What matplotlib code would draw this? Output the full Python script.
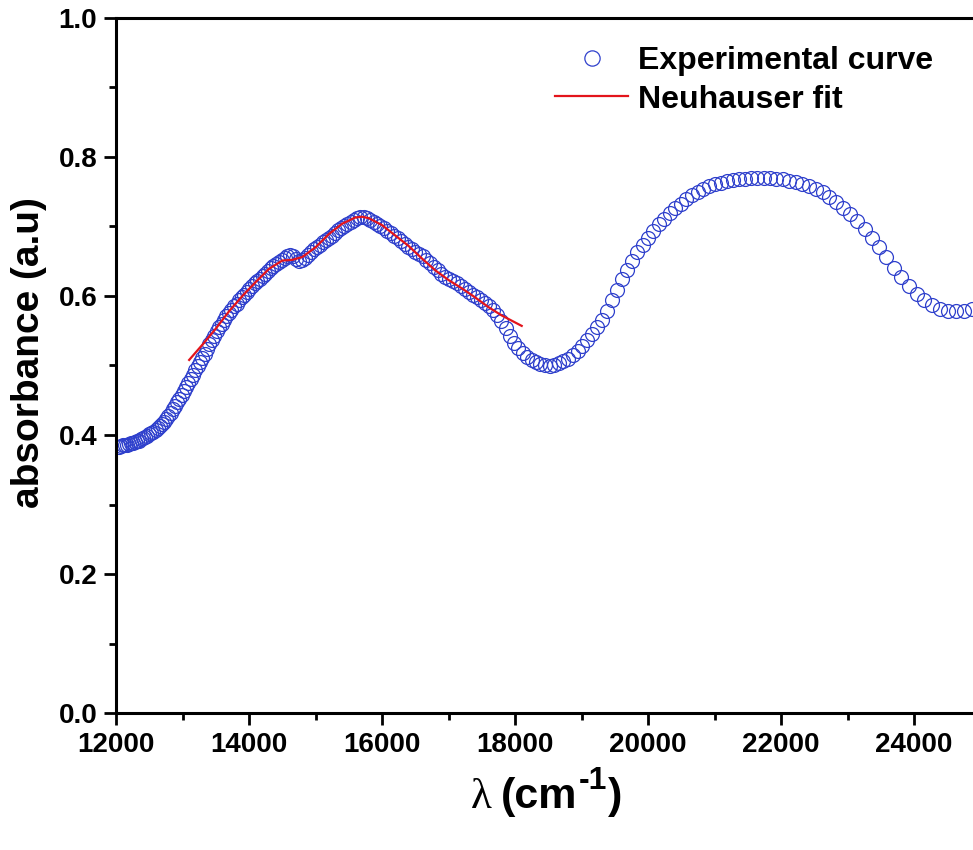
import numpy as np
import matplotlib
matplotlib.use('Agg')
import matplotlib.pyplot as plt

plt.rcParams['font.family'] = ['Liberation Sans', 'DejaVu Sans']
plt.rcParams['font.weight'] = 'bold'

# measured spectrum, sampled every 2 nm (plotted in cm-1)
wavelength_nm = [
    830, 828, 826, 824, 822, 820, 818, 816, 814, 812,
    810, 808, 806, 804, 802, 800, 798, 796, 794, 792,
    790, 788, 786, 784, 782, 780, 778, 776, 774, 772,
    770, 768, 766, 764, 762, 760, 758, 756, 754, 752,
    750, 748, 746, 744, 742, 740, 738, 736, 734, 732,
    730, 728, 726, 724, 722, 720, 718, 716, 714, 712,
    710, 708, 706, 704, 702, 700, 698, 696, 694, 692,
    690, 688, 686, 684, 682, 680, 678, 676, 674, 672,
    670, 668, 666, 664, 662, 660, 658, 656, 654, 652,
    650, 648, 646, 644, 642, 640, 638, 636, 634, 632,
    630, 628, 626, 624, 622, 620, 618, 616, 614, 612,
    610, 608, 606, 604, 602, 600, 598, 596, 594, 592,
    590, 588, 586, 584, 582, 580, 578, 576, 574, 572,
    570, 568, 566, 564, 562, 560, 558, 556, 554, 552,
    550, 548, 546, 544, 542, 540, 538, 536, 534, 532,
    530, 528, 526, 524, 522, 520, 518, 516, 514, 512,
    510, 508, 506, 504, 502, 500, 498, 496, 494, 492,
    490, 488, 486, 484, 482, 480, 478, 476, 474, 472,
    470, 468, 466, 464, 462, 460, 458, 456, 454, 452,
    450, 448, 446, 444, 442, 440, 438, 436, 434, 432,
    430, 428, 426, 424, 422, 420, 418, 416, 414, 412,
    410, 408, 406, 404, 402, 400]
absorbance = [
    .383, .384, .385, .386, .386, .387, .388, .389, .390, .391,
    .392, .394, .395, .397, .399, .401, .403, .405, .407, .410,
    .413, .416, .419, .423, .427, .432, .437, .442, .447, .452,
    .457, .463, .469, .475, .481, .487, .493, .499, .505, .511,
    .517, .524, .531, .537, .543, .549, .555, .560, .566, .571,
    .576, .580, .585, .589, .594, .598, .602, .606, .610, .614,
    .618, .621, .625, .629, .632, .636, .640, .643, .646, .649,
    .652, .655, .658, .659, .657, .653, .651, .652, .655, .659,
    .663, .667, .670, .673, .677, .680, .684, .687, .691, .695,
    .698, .701, .704, .707, .710, .712, .713, .713, .712, .710,
    .707, .704, .701, .698, .694, .690, .687, .683, .679, .675,
    .671, .667, .664, .660, .657, .652, .647, .642, .637, .632,
    .628, .625, .621, .618, .614, .610, .606, .602, .598, .594,
    .590, .586, .580, .573, .564, .554, .543, .533, .525, .518,
    .512, .508, .505, .502, .501, .500, .501, .503, .506, .510,
    .515, .521, .528, .536, .545, .555, .566, .579, .594, .609,
    .624, .638, .651, .663, .673, .683, .693, .703, .711, .719,
    .727, .733, .739, .745, .750, .754, .758, .761, .763, .765,
    .767, .768, .769, .770, .770, .770, .770, .769, .768, .766,
    .764, .761, .758, .754, .749, .743, .735, .727, .718, .708,
    .697, .684, .670, .656, .641, .627, .614, .603, .594, .587,
    .582, .579, .578, .579, .581, .583]

fit_x = [13100, 13300, 13500, 13700, 13900, 14100, 14300, 14500, 14650, 14800,
         15000, 15200, 15400, 15600, 15700, 15800, 16000, 16200, 16400, 16600,
         16800, 17000, 17200, 17400, 17600, 17800, 18000, 18100]
fit_y = [.508, .530, .553, .578, .600, .620, .639, .651, .652, .656,
         .670, .689, .704, .713, .714, .712, .702, .687, .672, .654,
         .637, .623, .611, .598, .584, .572, .562, .557]

wavenumber = 1e7 / np.array(wavelength_nm)

W, H = 973, 850
fig = plt.figure(figsize=(W / 100, H / 100), dpi=100)
ax = fig.add_axes([116 / W, 1 - 713 / H, 1 - 116 / W, (713 - 18) / H])

ax.plot(wavenumber, absorbance, ls='none', marker='o', markersize=10,
        markerfacecolor='none', markeredgecolor='#2f40cc', markeredgewidth=0.9,
        label='Experimental curve')
ax.plot(fit_x, fit_y, color='#e3141b', lw=1.6, label='Neuhauser fit')

ax.set_xlim(12000, 24886)
ax.set_ylim(0, 1.0)
ax.set_xticks(np.arange(12000, 24001, 2000))
ax.set_xticks(np.arange(13000, 24886, 2000), minor=True)
ax.set_yticks(np.arange(0, 1.01, 0.2))
ax.set_yticks(np.arange(0.1, 1.0, 0.2), minor=True)
ax.set_yticklabels(['0.0', '0.2', '0.4', '0.6', '0.8', '1.0'])

for s in ['left', 'bottom', 'top']:
    ax.spines[s].set_linewidth(2.2)
ax.spines['right'].set_visible(False)
ax.tick_params(which='major', direction='out', length=8.5, width=2, labelsize=20)
ax.tick_params(axis='x', which='major', pad=5)
ax.tick_params(axis='y', which='major', pad=5)
ax.tick_params(which='minor', direction='out', length=5, width=2)
ax.tick_params(top=False, right=False)

# axis titles
fig.text(29 / W, 1 - 353 / H, 'absorbance (a.u)', rotation=90, fontsize=28,
         fontweight='bold', ha='center', va='center')

base = 1 - 808 / H
t1 = fig.text(471 / W, base, 'λ', family=['Liberation Serif', 'DejaVu Serif'],
              fontweight='normal', fontsize=31, va='baseline')
fig.canvas.draw()
r = fig.canvas.get_renderer()
x1 = t1.get_window_extent(r).x1
t2 = fig.text((x1 + 9) / W, base, '(cm', fontsize=31, fontweight='bold', va='baseline')
fig.canvas.draw()
x2 = t2.get_window_extent(r).x1
t3 = fig.text((x2 + 1) / W, base + 19 / H, '-1', fontsize=23, fontweight='bold', va='baseline')
fig.canvas.draw()
x3 = t3.get_window_extent(r).x1
fig.text((x3 + 1) / W, base, ')', fontsize=31, fontweight='bold', va='baseline')

leg = ax.legend(loc='upper left', bbox_to_anchor=(555 / W, 1 - 46 / H),
                bbox_transform=fig.transFigure, frameon=False, fontsize=23,
                handlelength=2.3, handletextpad=0.3, labelspacing=0.27,
                borderpad=0, borderaxespad=0, numpoints=1)
leg.legend_handles[0].set_markersize(11)

fig.savefig('out.png', dpi=100)
